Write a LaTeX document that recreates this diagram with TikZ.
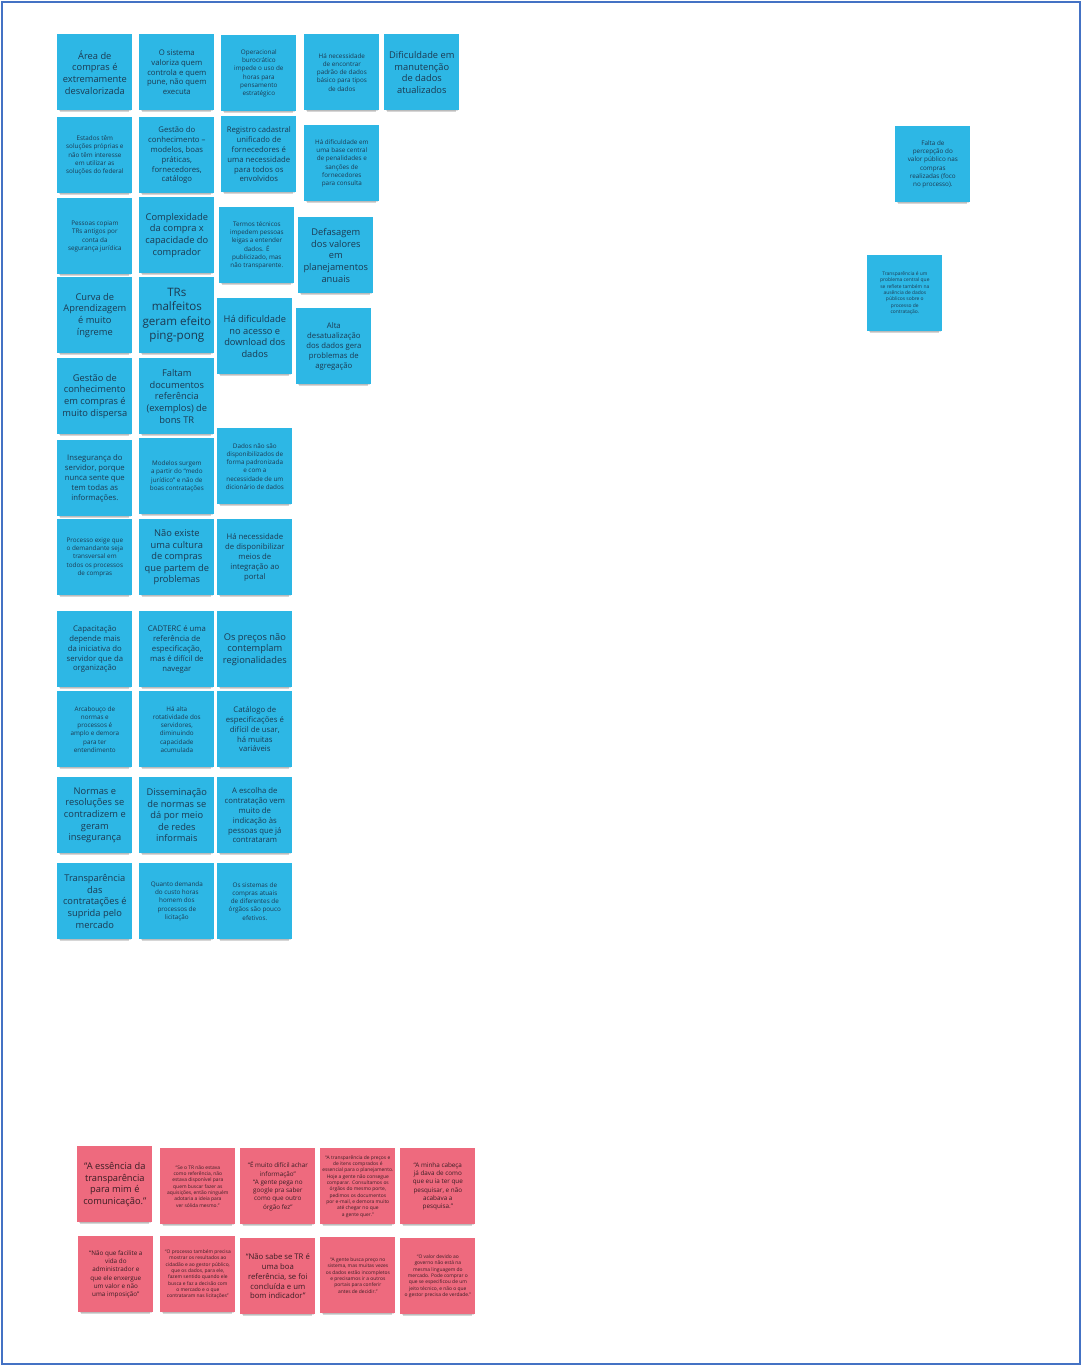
\documentclass[tikz,border=0pt]{standalone}
\usepackage{fontspec}
\setmainfont{Open Sans}
\usepackage{xcolor}
\definecolor{postazul}{HTML}{2DB7E5}
\definecolor{postrosa}{HTML}{EE6A7E}
\definecolor{txtazul}{HTML}{1C3A52}
\definecolor{txtrosa}{HTML}{3A1E24}
\definecolor{moldura}{HTML}{4472C4}
\usepackage{tikz}
\usetikzlibrary{shadows}

\begin{document}
\begin{tikzpicture}[x=0.02cm,y=-0.02cm,
  nota/.style={anchor=north west,align=center,minimum width=1.5cm,minimum height=1.52cm,inner sep=1pt,
    general shadow={shadow scale=0.92,shadow yshift=-3pt,opacity=.16,fill=black},
    general shadow={shadow scale=0.96,shadow yshift=-1.5pt,opacity=.12,fill=black}},
  azul/.style={nota,fill=postazul,text=txtazul},
  rosa/.style={nota,fill=postrosa,text=txtrosa},
  fa/.style={font=\fontsize{6.6}{8.2}\selectfont},
  fb/.style={font=\fontsize{5.3}{6.6}\selectfont},
  fc/.style={font=\fontsize{4.4}{5.6}\selectfont},
  fd/.style={font=\fontsize{3.6}{4.7}\selectfont},
  fe/.style={font=\fontsize{2.8}{3.6}\selectfont}]
\useasboundingbox[fill=white] (0,0) rectangle (1082,1366);
\draw[moldura,line width=0.8pt] (2,2) rectangle (1080,1364);
% problemas (azul)
\node[azul,fb] (area) at (57,34) {Área de\\compras é\\extremamente\\desvalorizada};
\node[azul,fc] (sist) at (139,34) {O sistema\\valoriza quem\\controla e quem\\pune, não quem\\executa};
\node[azul,fd] (oper) at (221,35) {Operacional\\burocrático\\impede o uso de\\horas para\\pensamento\\estratégico};
\node[azul,fd] (padr) at (304,34) {Há necessidade\\de encontrar\\padrão de dados\\básico para tipos\\de dados};
\node[azul,fb] (manut) at (384,34) {Dificuldade em\\manutenção\\de dados\\atualizados};
\node[azul,fd] (estad) at (57,117) {Estados têm\\soluções próprias e\\não têm interesse\\em utilizar as\\soluções do federal};
\node[azul,fc] (gest) at (139,117) {Gestão do\\conhecimento –\\modelos, boas\\práticas,\\fornecedores,\\catálogo};
\node[azul,fc] (cadas) at (221,116) {Registro cadastral\\unificado de\\fornecedores é\\uma necessidade\\para todos os\\envolvidos};
\node[azul,fd] (penal) at (304,125) {Há dificuldade em\\uma base central\\de penalidades e\\sanções de\\fornecedores\\para consulta};
\node[azul,fd] (copia) at (57,198) {Pessoas copiam\\TRs antigos por\\conta da\\segurança jurídica};
\node[azul,fb] (compl) at (139,197) {Complexidade\\da compra x\\capacidade do\\comprador};
\node[azul,fd] (termo) at (219,207) {Termos técnicos\\impedem pessoas\\leigas a entender\\dados. É\\publicizado, mas\\não transparente.};
\node[azul,fb] (defas) at (298,217) {Defasagem\\dos valores\\em\\planejamentos\\anuais};
\node[azul,fb] (curva) at (57,277) {Curva de\\Aprendizagem\\é muito\\íngreme};
\node[azul,fa] (pingp) at (139,277) {TRs\\malfeitos\\geram efeito\\ping-pong};
\node[azul,fb] (acess) at (217,298) {Há dificuldade\\no acesso e\\download dos\\dados};
\node[azul,fc] (desat) at (296,308) {Alta\\desatualização\\dos dados gera\\problemas de\\agregação};
\node[azul,fb] (dispe) at (57,358) {Gestão de\\conhecimento\\em compras é\\muito dispersa};
\node[azul,fb] (refer) at (139,358) {Faltam\\documentos\\referência\\(exemplos) de\\bons TR};
\node[azul,fc] (inseg) at (57,440) {Insegurança do\\servidor, porque\\nunca sente que\\tem todas as\\informações.};
\node[azul,fd] (medo) at (139,438) {Modelos surgem\\a partir do “medo\\jurídico” e não de\\boas contratações};
\node[azul,fd] (dicio) at (217,428) {Dados não são\\disponibilizados de\\forma padronizada\\e com a\\necessidade de um\\dicionário de dados};
\node[azul,fd] (trans) at (57,519) {Processo exige que\\o demandante seja\\transversal em\\todos os processos\\de compras};
\node[azul,fb] (cultu) at (139,519) {Não existe\\uma cultura\\de compras\\que partem de\\problemas};
\node[azul,fc] (integ) at (217,519) {Há necessidade\\de disponibilizar\\meios de\\integração ao\\portal};
\node[azul,fc] (capac) at (57,611) {Capacitação\\depende mais\\da iniciativa do\\servidor que da\\organização};
\node[azul,fc] (cadt) at (139,611) {CADTERC é uma\\referência de\\especificação,\\mas é difícil de\\navegar};
\node[azul,fb] (preco) at (217,611) {Os preços não\\contemplam\\regionalidades};
\node[azul,fd] (arcab) at (57,691) {Arcabouço de\\normas e\\processos é\\amplo e demora\\para ter\\entendimento};
\node[azul,fd] (rotat) at (139,691) {Há alta\\rotatividade dos\\servidores,\\diminuindo\\capacidade\\acumulada};
\node[azul,fc] (catal) at (217,691) {Catálogo de\\especificações é\\difícil de usar,\\há muitas\\variáveis};
\node[azul,fb] (norma) at (57,777) {Normas e\\resoluções se\\contradizem e\\geram\\insegurança};
\node[azul,fb] (disse) at (139,777) {Disseminação\\de normas se\\dá por meio\\de redes\\informais};
\node[azul,fc] (escol) at (217,777) {A escolha de\\contratação vem\\muito de\\indicação às\\pessoas que já\\contrataram};
\node[azul,fb] (merc) at (57,863) {Transparência\\das\\contratações é\\suprida pelo\\mercado};
\node[azul,fd] (horas) at (139,863) {Quanto demanda\\do custo horas\\homem dos\\processos de\\licitação};
\node[azul,fd] (orgao) at (217,863) {Os sistemas de\\compras atuais\\de diferentes de\\órgãos são pouco\\efetivos.};
\node[azul,fd] (valor) at (895,126) {Falta de\\percepção do\\valor público nas\\compras\\realizadas (foco\\no processo).};
\node[azul,fe] (centr) at (867,255) {Transparência é um\\problema central que\\se reflete também na\\ausência de dados\\públicos sobre o\\processo de\\contratação.};
% falas (rosa)
\node[rosa,fb] (essen) at (77,1146) {“A essência da\\transparência\\para mim é\\comunicação.”};
\node[rosa,fe] (tr) at (160,1148) {“Se o TR não estava\\como referência, não\\estava disponível para\\quem buscar fazer as\\aquisições, então ninguém\\adotaria a ideia para\\ver sólida mesmo.”};
\node[rosa,fd] (google) at (240,1148) {“É muito difícil achar\\informação”\\“A gente pega no\\google pra saber\\como que outro\\órgão fez”};
\node[rosa,fe] (email) at (320,1148) {“A transparência de preços e\\de itens comprados é\\essencial para o planejamento.\\Hoje a gente não consegue\\comparar. Consultamos os\\órgãos do mesmo porte,\\pedimos os documentos\\por e-mail, e demora muito\\até chegar no que\\a gente quer.”};
\node[rosa,fd] (cabec) at (400,1148) {“A minha cabeça\\já dava de como\\que eu ia ter que\\pesquisar, e não\\acabava a\\pesquisa.”};
\node[rosa,fd] (impos) at (78,1236) {“Não que facilite a\\vida do\\administrador e\\que ele enxergue\\um valor e não\\uma imposição”};
\node[rosa,fe] (cidad) at (160,1236) {“O processo também precisa\\mostrar os resultados ao\\cidadão e ao gestor público,\\que os dados, para ele,\\fazem sentido quando ele\\busca e faz a decisão com\\o mercado e o que\\contrataram nas licitações”};
\node[rosa,fc] (indic) at (240,1238) {“Não sabe se TR é\\uma boa\\referência, se foi\\concluída e um\\bom indicador”};
\node[rosa,fe] (portal) at (320,1237) {“A gente busca preço no\\sistema, mas muitas vezes\\os dados estão incompletos\\e precisamos ir a outros\\portais para conferir\\antes de decidir.”};
\node[rosa,fe] (lingu) at (400,1238) {“O valor devido ao\\governo não está na\\mesma linguagem do\\mercado. Pode comprar o\\que se especificou de um\\jeito técnico, e não o que\\o gestor precisa de verdade.”};
\end{tikzpicture}
\end{document}
